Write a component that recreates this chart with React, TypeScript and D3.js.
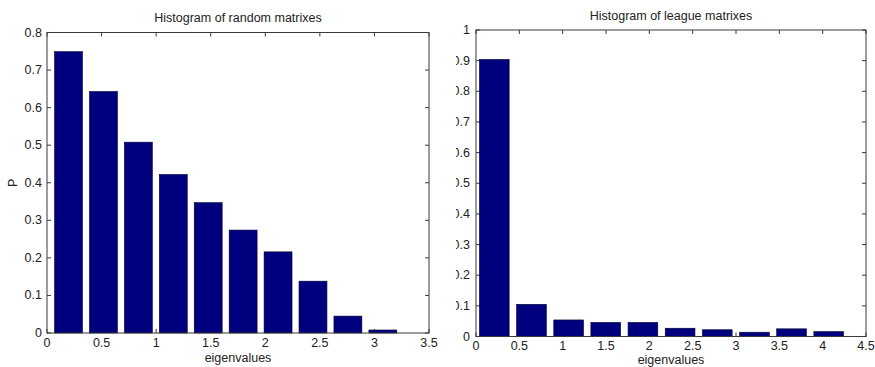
import React from 'react';
import * as d3 from 'd3';

// histogram bin centres and heights
const randomCenters = [0.197, 0.517, 0.837, 1.157, 1.477, 1.797, 2.117, 2.437, 2.757, 3.077];
const randomP = [0.749, 0.643, 0.508, 0.422, 0.347, 0.274, 0.216, 0.138, 0.045, 0.008];
const randomXTicks = [0, 0.5, 1, 1.5, 2, 2.5, 3, 3.5];
const randomYTicks = [0, 0.1, 0.2, 0.3, 0.4, 0.5, 0.6, 0.7, 0.8];

const leagueCenters = [0.211, 0.640, 1.069, 1.497, 1.926, 2.355, 2.784, 3.213, 3.641, 4.070];
const leagueP = [0.904, 0.105, 0.054, 0.046, 0.046, 0.027, 0.022, 0.014, 0.025, 0.016];
const leagueXTicks = [0, 0.5, 1, 1.5, 2, 2.5, 3, 3.5, 4, 4.5];
const leagueYTicks = [0, 0.1, 0.2, 0.3, 0.4, 0.5, 0.6, 0.7, 0.8, 0.9, 1];

const FONT = '"Liberation Sans", Arial, sans-serif';
const FS = 12.5;
const AXIS = '#3a3a3a';
const TEXT = '#222';
const BAR = '#00007f';

const fmt = (v) => (v === 0 ? '0' : String(v));

const Panel = ({ box, xDomain, yDomain, centers, values, binWidth, xTicks, yTicks,
  title, titleY, xLabelY, xTickY, yTickGap, yLabel, clipX }) => {
  const x = d3.scaleLinear().domain(xDomain).range([box.left, box.right]);
  const y = d3.scaleLinear().domain(yDomain).range([box.bottom, box.top]);
  const tick = 4;
  const cx = (box.left + box.right) / 2;
  const clipId = clipX != null ? `clip-${Math.round(clipX)}` : undefined;

  return (
    <g clipPath={clipId ? `url(#${clipId})` : undefined}>
      {clipId && (
        <defs>
          <clipPath id={clipId}>
            <rect x={clipX} y={0} width={875 - clipX} height={367} />
          </clipPath>
        </defs>
      )}
      {/* ticks (inside, on all four sides) */}
      {xTicks.map((t) => (
        <g key={'xt' + t} stroke={AXIS}>
          <line x1={x(t)} x2={x(t)} y1={box.bottom} y2={box.bottom - tick} />
          <line x1={x(t)} x2={x(t)} y1={box.top} y2={box.top + tick} />
        </g>
      ))}
      {yTicks.map((t) => (
        <g key={'yt' + t} stroke={AXIS}>
          <line x1={box.left} x2={box.left + tick} y1={y(t)} y2={y(t)} />
          <line x1={box.right} x2={box.right - tick} y1={y(t)} y2={y(t)} />
        </g>
      ))}
      {/* bars */}
      {centers.map((c, i) => (
        <rect key={'b' + i}
          x={x(c - binWidth / 2)}
          y={y(values[i])}
          width={x(c + binWidth / 2) - x(c - binWidth / 2)}
          height={y(0) - y(values[i])}
          fill={BAR} stroke="#000030" strokeWidth={0.6} />
      ))}
      <rect x={box.left} y={box.top} width={box.right - box.left} height={box.bottom - box.top}
        fill="none" stroke={AXIS} strokeWidth={1} />
      {/* tick labels */}
      {xTicks.map((t) => (
        <text key={'xl' + t} x={x(t)} y={xTickY} textAnchor="middle"
          fontFamily={FONT} fontSize={FS} fill={TEXT}>{fmt(t)}</text>
      ))}
      {yTicks.map((t) => (
        <text key={'yl' + t} x={box.left - yTickGap} y={y(t) + 4} textAnchor="end"
          fontFamily={FONT} fontSize={FS} fill={TEXT}>{fmt(t)}</text>
      ))}
      <text x={cx} y={titleY} textAnchor="middle" fontFamily={FONT} fontSize={FS} fill={TEXT}>{title}</text>
      <text x={cx} y={xLabelY} textAnchor="middle" fontFamily={FONT} fontSize={FS} fill={TEXT}>eigenvalues</text>
      {yLabel && (
        <text transform={`translate(17,${(box.top + box.bottom) / 2}) rotate(-90)`} textAnchor="middle"
          fontFamily={FONT} fontSize={FS} fill={TEXT}>{yLabel}</text>
      )}
    </g>
  );
};

export default function App() {
  return (
    <svg width={875} height={367} style={{ position: 'absolute', left: 0, top: 0, background: '#fff' }}>
      <rect width={875} height={367} fill="#fff" />
      <Panel
        box={{ left: 47, right: 429, top: 32.5, bottom: 333 }}
        xDomain={[0, 3.5]} yDomain={[0, 0.8]}
        centers={randomCenters} values={randomP} binWidth={0.256}
        xTicks={randomXTicks} yTicks={randomYTicks}
        title="Histogram of random matrixes" titleY={22}
        xTickY={347} xLabelY={362} yTickGap={5} yLabel="P" />
      <Panel
        box={{ left: 476, right: 866, top: 30, bottom: 336.5 }}
        xDomain={[0, 4.5]} yDomain={[0, 1]}
        centers={leagueCenters} values={leagueP} binWidth={0.343}
        xTicks={leagueXTicks} yTicks={leagueYTicks}
        title="Histogram of league matrixes" titleY={20}
        xTickY={350} xLabelY={363.5} yTickGap={6} yLabel="P" clipX={456} />
    </svg>
  );
}
